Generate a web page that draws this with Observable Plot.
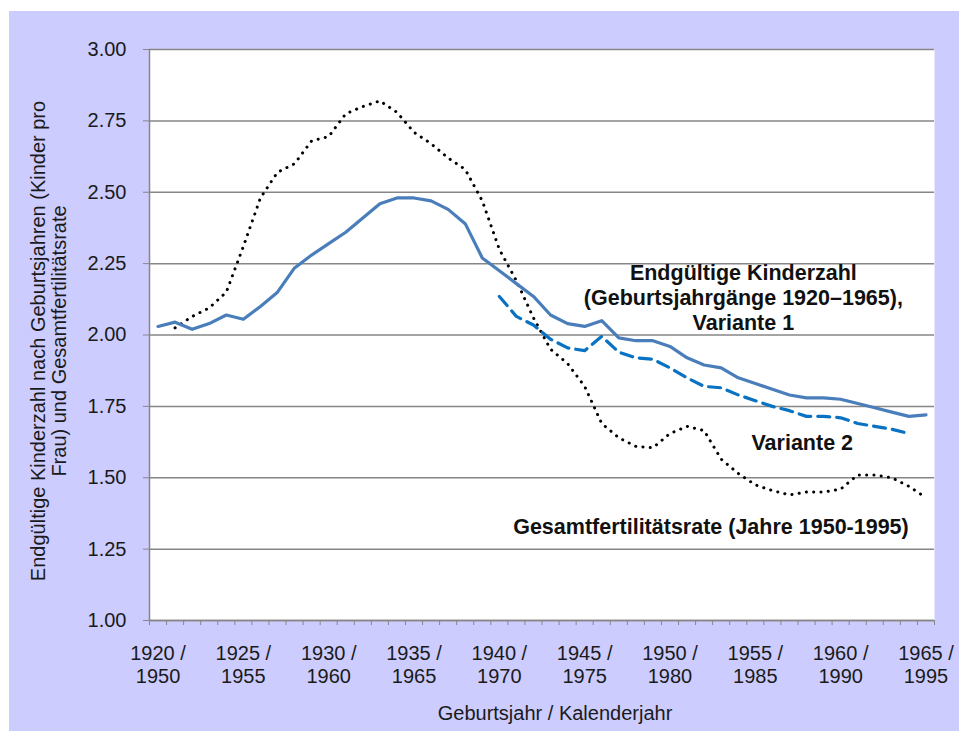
<!DOCTYPE html>
<html>
<head>
<meta charset="utf-8">
<script src="https://cdn.jsdelivr.net/npm/d3@7"></script>
<script src="https://cdn.jsdelivr.net/npm/@observablehq/plot@0.6"></script>
<style>
  html, body { margin: 0; padding: 0; background: #ffffff; }
  #chart { position: absolute; left: 9px; top: 11px; width: 950px; height: 720px; background: #ccccff; }
</style>
</head>
<body>
<div id="chart"></div>
<script>
// Cohort (birth year) categories; calendar year = cohort + 30
const cohorts = [1920,1921,1922,1923,1924,1925,1926,1927,1928,1929,
                 1930,1931,1932,1933,1934,1935,1936,1937,1938,1939,
                 1940,1941,1942,1943,1944,1945,1946,1947,1948,1949,
                 1950,1951,1952,1953,1954,1955,1956,1957,1958,1959,
                 1960,1961,1962,1963,1964,1965];

// Endgültige Kinderzahl, Variante 1 (solid)
const variante1 = [2.03,2.045,2.02,2.04,2.07,2.055,2.10,2.15,2.235,2.28,
                   2.32,2.36,2.41,2.46,2.48,2.48,2.47,2.44,2.39,2.27,
                   2.225,2.18,2.135,2.07,2.04,2.03,2.05,1.99,1.98,1.98,
                   1.96,1.92,1.895,1.885,1.85,1.83,1.81,1.79,1.78,1.78,
                   1.775,1.76,1.745,1.73,1.715,1.72];

// Variante 2 (dashed), cohorts 1940–1964
const variante2 = [null,null,null,null,null,null,null,null,null,null,
                   null,null,null,null,null,null,null,null,null,null,
                   2.135,2.065,2.035,1.985,1.955,1.945,1.995,1.94,1.92,1.915,
                   1.885,1.85,1.82,1.815,1.79,1.77,1.75,1.735,1.715,1.715,
                   1.71,1.69,1.68,1.67,1.655,null];

// Gesamtfertilitätsrate (calendar years 1951–1995, dotted)
const tfr = [null,2.025,2.065,2.095,2.15,2.31,2.48,2.57,2.60,2.68,
             2.695,2.775,2.80,2.82,2.78,2.71,2.67,2.62,2.58,2.47,
             2.30,2.19,2.06,1.95,1.90,1.82,1.69,1.64,1.61,1.605,
             1.655,1.68,1.665,1.565,1.515,1.475,1.455,1.44,1.45,1.45,
             1.46,1.51,1.51,1.50,1.47,1.43];

const yTicks = [1.00,1.25,1.50,1.75,2.00,2.25,2.50,2.75,3.00];
const xLabelYears = [1920,1925,1930,1935,1940,1945,1950,1955,1960,1965];
const xTickLabels = ["1920 /\n1950","1925 /\n1955","1930 /\n1960","1935 /\n1965","1940 /\n1970",
                     "1945 /\n1975","1950 /\n1980","1955 /\n1985","1960 /\n1990","1965 /\n1995"];

const yTitle = "Endgültige Kinderzahl nach Geburtsjahren (Kinder pro\nFrau) und Gesamtfertilitätsrate";
const xTitle = "Geburtsjahr / Kalenderjahr";

const annotations = [
  {x: 1954.3, y: 2.133, text: "Endgültige Kinderzahl\n(Geburtsjahrgänge 1920–1965),\nVariante 1"},
  {x: 1957.75, y: 1.626, text: "Variante 2"},
  {x: 1952.4, y: 1.332, text: "Gesamtfertilitätsrate (Jahre 1950-1995)"}
];

const rows = cohorts.map((c, i) => ({cohort: c, v1: variante1[i], v2: variante2[i], tfr: tfr[i]}));
const boundaries = cohorts.map(c => c - 0.5).concat([cohorts[cohorts.length - 1] + 0.5]);

const grey = "#868686";
const fontFamily = "'Liberation Sans', Arial, sans-serif";

const chart = Plot.plot({
  width: 950,
  height: 720,
  marginLeft: 140,
  marginRight: 25,
  marginTop: 38,
  marginBottom: 111,
  style: {background: "transparent", fontFamily, fontSize: "20px", color: "#1a1a1a", overflow: "visible"},
  x: {domain: [boundaries[0], boundaries[boundaries.length - 1]]},
  y: {domain: [yTicks[0], yTicks[yTicks.length - 1]]},
  marks: [
    Plot.frame({fill: "white", stroke: null}),
    Plot.gridY(yTicks, {stroke: grey, strokeOpacity: 1, strokeWidth: 1.5}),
    Plot.ruleX([boundaries[0]], {stroke: grey, strokeWidth: 1.5}),
    Plot.ruleY([yTicks[0]], {stroke: grey, strokeWidth: 1.5}),
    Plot.axisY(yTicks, {tickSize: 6, tickPadding: 17, tickFormat: d => d.toFixed(2), stroke: grey, label: null, fontSize: 20}),
    Plot.axisX(boundaries, {tickSize: 5, tickFormat: () => "", stroke: grey, label: null}),
    Plot.axisX(xLabelYears, {tickSize: 0, tickPadding: 23, lineHeight: 1.15, fontSize: 20,
      tickFormat: d => xTickLabels[xLabelYears.indexOf(d)], label: null}),
    Plot.line(rows, {x: "cohort", y: "tfr", stroke: "#000", strokeWidth: 3, strokeDasharray: "0.1 7.2", strokeLinecap: "round"}),
    Plot.line(rows, {x: "cohort", y: "v2", stroke: "#0a72c2", strokeWidth: 3.2, strokeDasharray: "12 7"}),
    Plot.line(rows, {x: "cohort", y: "v1", stroke: "#4a7ebb", strokeWidth: 3.2}),
    Plot.text(annotations, {x: "x", y: "y", text: "text", fontWeight: "bold", fontSize: 21.5, lineHeight: 1.17, fill: "#111"}),
    Plot.text([yTitle], {text: d => d, frameAnchor: "left", textAnchor: "middle", lineAnchor: "middle", rotate: -90, dx: -101, dy: 6, lineHeight: 1.05, fontSize: 20, fill: "#1a1a1a"}),
    Plot.text([xTitle], {text: d => d, frameAnchor: "bottom", dx: 13, dy: 99, fontSize: 20, fill: "#1a1a1a"})
  ]
});

document.getElementById("chart").appendChild(chart);
</script>
</body>
</html>
